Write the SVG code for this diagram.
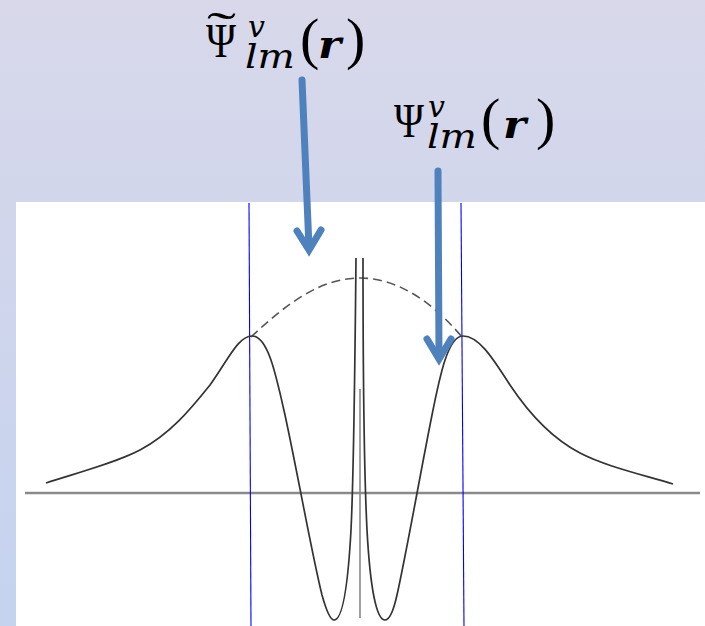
<svg xmlns="http://www.w3.org/2000/svg" width="705" height="626" viewBox="0 0 705 626">
<defs>
<linearGradient id="bg" x1="0" y1="0" x2="0" y2="1">
<stop offset="0" stop-color="#d8d8ea"/>
<stop offset="1" stop-color="#c5d3ef"/>
</linearGradient>
<style>
.curve{fill:none;stroke:#333;stroke-width:1.7}
.dash{fill:none;stroke:#555;stroke-width:1.6;stroke-dasharray:9 5}
.axis{stroke:#8a8a8a;stroke-width:2.5}
.blue{stroke:#0000ff;stroke-width:1.1}
.arrow{fill:none;stroke:#4f81bd;stroke-width:7;stroke-linecap:round;stroke-linejoin:miter}
.lab{font-family:'Liberation Serif','DejaVu Serif',serif;fill:#000}
.it{font-family:'DejaVu Serif','Liberation Serif',serif;font-style:italic}
.bi{font-family:'DejaVu Serif','Liberation Serif',serif;font-style:italic;font-weight:bold}
</style>
</defs>
<rect x="0" y="0" width="705" height="626" fill="url(#bg)"/>
<rect x="16" y="202" width="689" height="424" fill="#fff"/>
<g id="plot">
<line class="axis" x1="25" y1="493" x2="700" y2="493"/>
<line class="blue" x1="249" y1="203" x2="251" y2="626"/>
<line class="blue" x1="461" y1="203" x2="464" y2="626"/>
<line x1="360" y1="389" x2="360" y2="618" stroke="#888" stroke-width="1.6"/>
<path class="dash" d="M251,337 C285,305 320,278 360,278 C400,278 435,305 462,337"/>
<path class="curve" d="M46,483 C80,472 115,463 140,450 C170,434 190,410 210,385 C228,360 238,336 252,336"/>
<path class="curve" d="M252,336 C268,336 276,375 285,415 C298,475 312,555 322,595 C327,613 331,620 334,620 C343,620 348,585 351,530 C354,470 355,360 356,258"/>
<path class="curve" d="M363,258 C363,360 364,470 367,530 C370,585 376,620 385,620 C389,620 393,613 397,595 C406,555 420,475 432,415 C440,375 448,336 463,336"/>
<path class="curve" d="M463,336 C480,336 495,362 510,385 C530,415 555,440 580,453 C605,466 640,474 673,484"/>
</g>
<g id="connectors">
<path class="arrow" d="M302,80 L309,248"/>
<path class="arrow" d="M297,231 L309,250 L321,230"/>
<path class="arrow" d="M438,171 L439,356"/>
<path class="arrow" d="M427,339 L439,359 L451,339"/>
</g>
<g id="label-psi-tilde" class="lab">
<text x="206" y="57" font-size="48" textLength="30" lengthAdjust="spacingAndGlyphs">Ψ</text>
<text x="207" y="44" font-size="46" textLength="29" lengthAdjust="spacingAndGlyphs">˜</text>
<text x="248" y="37" font-size="30" class="it">v</text>
<text x="245" y="68" font-size="34" class="it" textLength="50" lengthAdjust="spacingAndGlyphs">lm</text>
<text x="300" y="58" font-size="58">(</text>
<text x="318" y="58" font-size="40" class="bi" textLength="23" lengthAdjust="spacingAndGlyphs">r</text>
<text x="346" y="58" font-size="58">)</text>
</g>
<g id="label-psi" class="lab">
<text x="394" y="137" font-size="48" textLength="30" lengthAdjust="spacingAndGlyphs">Ψ</text>
<text x="428" y="117" font-size="30" class="it">v</text>
<text x="427" y="148" font-size="34" class="it" textLength="50" lengthAdjust="spacingAndGlyphs">lm</text>
<text x="481" y="138" font-size="58">(</text>
<text x="503" y="138" font-size="40" class="bi" textLength="23" lengthAdjust="spacingAndGlyphs">r</text>
<text x="536" y="138" font-size="58">)</text>
</g>
</svg>
